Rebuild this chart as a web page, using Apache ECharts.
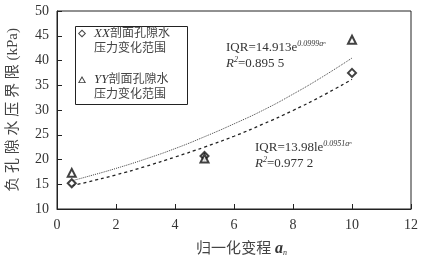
<!DOCTYPE html>
<html><head><meta charset="utf-8">
<script src="https://cdn.jsdelivr.net/npm/echarts@6/dist/echarts.min.js"></script>
<style>html,body{margin:0;padding:0;background:#fff}#c{width:427px;height:255px}</style>
</head><body><div id="c"></div>
<script>
// Data
const xTicks = [0, 2, 4, 6, 8, 10, 12];
const yTicks = [10, 15, 20, 25, 30, 35, 40, 45, 50];
const xxPoints = [[0.5, 15.2], [5, 20.7], [10, 37.5]];
const yyPoints = [[0.5, 17.3], [5, 20.2], [10, 44.2]];
const fitX = [0.5, 1, 2, 3, 4, 5, 6, 7, 8, 9, 10];
const yyFit = [15.7, 16.5, 18.2, 20.1, 22.2, 24.6, 27.2, 30.0, 33.2, 36.7, 40.5];
const xxFit = [14.7, 15.4, 16.9, 18.6, 20.5, 22.5, 24.7, 27.2, 29.9, 32.9, 36.2];
const seriesNames = ['XX', 'YY'];

const serif = '"Liberation Serif","Noto Sans CJK SC",serif';
const ink = '#222';
const txt = '#333';
const hollowDiamond = 'path://M10,0 L20,10 L10,20 L0,10 Z M10,3.5 L3.5,10 L10,16.5 L16.5,10 Z';
const hollowTriangle = 'path://M10,0 L20,18 L0,18 Z M10,5 L3.8,15.6 L16.2,15.6 Z';
const eqRich = {
  m: {fontFamily: serif, fontSize: 13, fill: txt, lineHeight: 16},
  v: {fontFamily: serif, fontSize: 13, fontStyle: 'italic', fill: txt, lineHeight: 16},
  p: {fontFamily: serif, fontSize: 8, fontStyle: 'italic', fill: txt, verticalAlign: 'top', lineHeight: 16},
  r: {fontFamily: serif, fontSize: 5, fontStyle: 'italic', fill: txt, verticalAlign: 'top', lineHeight: 13}
};
const chart = echarts.init(document.getElementById('c'), null, {renderer: 'canvas'});
const option = {
  animation: false,
  backgroundColor: '#fff',
  grid: {left: 57, right: 16, top: 11, bottom: 46, show: true, borderColor: ink, borderWidth: 1,
    containLabel: false, outerBoundsMode: 'none'},
  xAxis: {
    type: 'value', min: xTicks[0], max: xTicks[xTicks.length - 1], interval: 2,
    axisLine: {lineStyle: {color: ink}}, axisTick: {inside: true, length: 5, lineStyle: {color: ink}},
    splitLine: {show: false},
    axisLabel: {color: txt, fontFamily: serif, fontSize: 14, margin: 9},
    name: '{c|归一化变程 }{a|a}{s|n}', nameLocation: 'middle', nameGap: 32,
    nameTextStyle: {
      padding: [0, 0, 0, 15],
      rich: {
        c: {fontFamily: serif, fontSize: 15, color: '#444'},
        a: {fontFamily: serif, fontSize: 16, fontStyle: 'italic', fontWeight: 'bold', color: txt},
        s: {fontFamily: serif, fontSize: 8, fontStyle: 'italic', color: txt, verticalAlign: 'bottom', padding: [6, 0, 0, 0]}
      }
    }
  },
  yAxis: {
    type: 'value', min: yTicks[0], max: yTicks[yTicks.length - 1], interval: 5,
    axisLine: {show: true, lineStyle: {color: ink}}, axisTick: {show: true, inside: true, length: 5, lineStyle: {color: ink}},
    splitLine: {show: false},
    axisLabel: {color: txt, fontFamily: serif, fontSize: 14, margin: 8},
    name: '负 孔 隙 水 压 界 限 (kPa)', nameLocation: 'middle', nameGap: 36,
    nameTextStyle: {fontFamily: serif, fontSize: 15, color: '#444'}
  },
  legend: {
    data: [{name: seriesNames[0], icon: hollowDiamond}, {name: seriesNames[1], icon: hollowTriangle}],
    orient: 'vertical', left: 78, top: 11, padding: 0, itemGap: 1,
    itemWidth: 8, itemHeight: 8,
    itemStyle: {color: '#111', borderWidth: 0, borderColor: 'transparent'},
    formatter: function (n) { return '{i|' + n + '}{t|剖面孔隙水}\n{t|压力变化范围}'; },
    textStyle: {
      padding: [15, 0, 0, 3], lineHeight: 15,
      rich: {
        i: {fontFamily: serif, fontSize: 13, fontStyle: 'italic', color: txt, lineHeight: 15},
        t: {fontFamily: serif, fontSize: 12, color: '#444', lineHeight: 15}
      }
    }
  },
  graphic: [
    {type: 'rect', left: 73, top: 24, shape: {width: 112, height: 78}, style: {fill: 'none', stroke: ink, lineWidth: 1}, z: 0},
    {type: 'text', left: 226, top: 40, style: {text: '{m|IQR=14.913e}{p|0.0999a}{r|n}\n{v|R}{p|2}{m|=0.895 5}', rich: eqRich}},
    {type: 'text', left: 255, top: 140, style: {text: '{m|IQR=13.98le}{p|0.0951a}{r|n}\n{v|R}{p|2}{m|=0.977 2}', rich: eqRich}}
  ],
  series: [
    {name: 'YYfit', type: 'line', smooth: true, symbol: 'none', data: fitX.map((x, i) => [x, yyFit[i]]),
      lineStyle: {color: '#444', width: 1, type: [1, 1]}, z: 2},
    {name: 'XXfit', type: 'line', smooth: true, symbol: 'none', data: fitX.map((x, i) => [x, xxFit[i]]),
      lineStyle: {color: '#222', width: 1.3, type: [3, 3]}, z: 2},
    {name: seriesNames[0], type: 'scatter', symbol: 'emptyDiamond', symbolSize: 8, data: xxPoints,
      itemStyle: {color: '#111', borderColor: '#111', borderWidth: 1}, z: 3},
    {name: seriesNames[1], type: 'scatter', symbol: 'emptyTriangle', symbolSize: 8, data: yyPoints,
      itemStyle: {color: '#111', borderColor: '#111', borderWidth: 1}, z: 3}
  ]
};
chart.setOption(option);
</script></body></html>
